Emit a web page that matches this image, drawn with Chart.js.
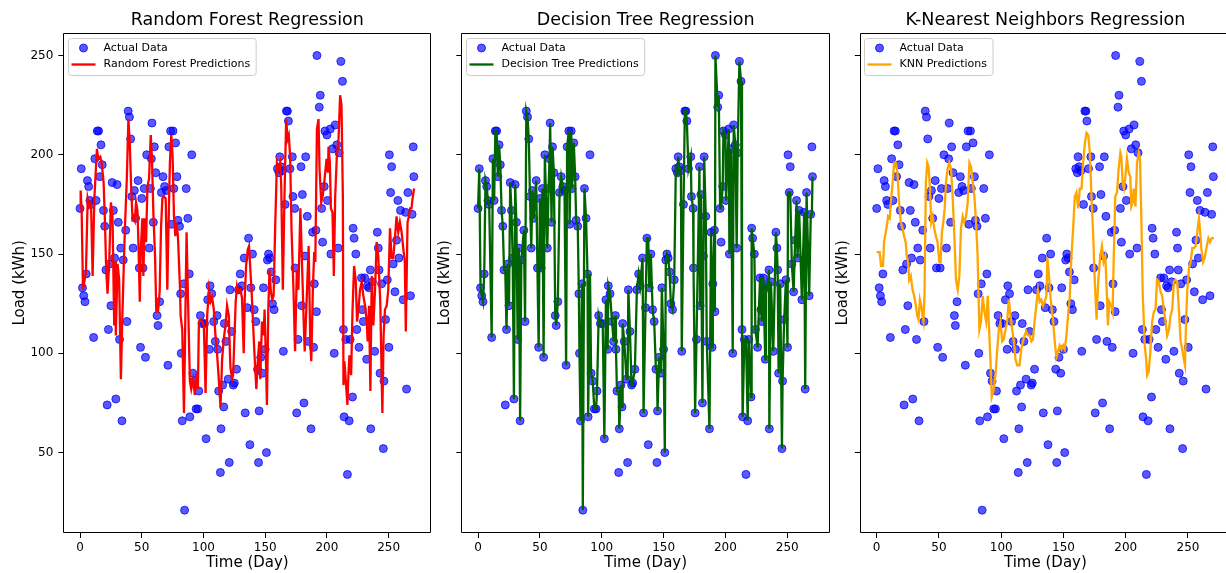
<!DOCTYPE html>
<html>
<head>
<meta charset="utf-8">
<script src="https://cdn.jsdelivr.net/npm/chart.js@4.4.0/dist/chart.umd.min.js"></script>
<style>
  html, body { margin: 0; padding: 0; background: #fff; overflow: hidden; }
  #wrap { position: relative; width: 1226px; height: 573px; overflow: hidden; }
  canvas { position: absolute; top: 0; }
</style>
</head>
<body>
<div id="wrap">
  <canvas id="rfChart" width="440" height="573" style="left:0px"></canvas>
  <canvas id="dtChart" width="415" height="573" style="left:425px"></canvas>
  <canvas id="knnChart" width="420" height="573" style="left:823px"></canvas>
</div>
<script>
const days = [
  0,1,2,3,4,5,6,7,8,9,
  11,12,13,14,15,16,17,18,19,20,
  21,22,23,24,25,26,27,28,29,30,
  31,32,33,34,35,37,38,39,40,41,
  42,43,44,45,47,48,49,50,51,52,
  53,54,56,57,57.8,58.3,59.4,60.2,61.3,62.4,
  63.2,64.5,65.9,67.2,68.5,69.9,71.2,72,73.4,74,
  75.3,76,77.4,78.5,79.3,80.6,81.5,82,82.8,84,
  84.7,86,87.3,88.5,89,90.5,91.4,92.7,94,95.4,
  96.2,97.5,98.9,100.8,102.1,103.4,104.8,105.3,106.7,108.3,
  109.6,111,111.5,112.3,113.7,114.2,115.5,116.4,116.9,118.2,
  120,120.9,121.5,122.8,124.1,125,126.8,128.4,129.8,131.1,
  133,133.8,135.4,136.5,137.6,138.4,139.7,141.1,142.4,143.8,
  144.6,145.1,146.4,147.8,148.6,150,151,151.8,152.7,153.7,
  154.8,155.9,157.2,158.6,159.9,161.2,161.8,162.6,164,164.7,
  166.1,167.2,168,168.8,170.1,172,172.5,173.9,174.2,175.5,
  176.6,179,179.5,180.1,181.4,182.2,182.8,184.1,184.9,187.1,
  188.4,189.2,189.8,191.1,191.5,191.9,193.8,194.6,195.7,196.5,
  197.8,198.4,200,200.5,202.7,203.2,204.5,205.9,206.7,208,
  209.1,209.9,211.3,212.6,213.4,213.9,215.3,216.6,218,218.8,
  220.7,221.2,222,223.4,224.2,226,228,228.7,229.5,230.6,
  232.2,232.8,234,235.2,235.5,236.8,238.7,240.8,241.6,242.2,
  243,244.3,245.7,246.2,247.5,248.9,250.2,250.6,251.6,252.4,
  253.7,255.1,256.4,257.5,258.3,259.6,261.8,263.7,264.5,265.6,
  267.7,269,269.9,270.4
];
const actualLoad = [
  173,193,133,129,126,140,187,184,177,175,
  108,198,177,212,212,189,205,195,172,164,
  142,74,112,145,124,186,172,148,77,185,
  166,107,153,66,147,162,116,222,219,208,
  179,153,182,168,187,143,103,178,143,183,
  98,200,153,183,198,216,166,204,191,119,
  114,126,181,189,184,182,94,204,212,165,
  212,183,206,189,167,164,130,100,66,135,
  21,183,168,140,68,200,90,86,72,72,
  81,119,115,115,57,127,102,134,130,116,
  106,119,102,81,40,62,84,73,115,106,
  87,45,132,111,84,85,92,132,140,134,
  148,70,123,158,54,133,150,122,116,92,
  45,71,98,90,133,102,50,147,150,148,
  141,125,122,137,193,191,199,194,192,101,
  175,222,222,217,193,199,179,173,143,70,
  107,194,124,180,75,149,199,169,106,62,
  161,103,135,162,121,250,224,230,173,156,
  184,212,210,177,213,150,203,100,215,205,
  153,201,247,237,112,68,107,39,66,107,
  78,163,158,150,112,103,138,122,116,138,
  97,134,133,142,62,136,101,161,153,142,
  90,135,52,86,117,137,103,200,181,194,
  145,131,157,177,148,172,127,171,82,181,
  129,170,204,189
];
// decision tree predictions at the same days
const dtPred = [
  173,193,133,129,126,140,187,184,177,175,
  108,198,177,212,212,189,205,195,172,164,
  142,142,112,145,124,186,172,148,77,185,
  166,107,153,66,147,162,116,222,219,208,
  179,153,182,168,187,143,103,178,143,183,
  98,200,153,183,198,216,166,204,191,119,
  114,126,181,189,184,182,94,204,212,165,
  212,183,206,189,167,164,130,100,66,135,
  21,183,168,140,68,140,90,86,72,72,
  81,119,115,115,57,127,102,134,130,116,
  106,119,102,81,81,62,84,73,115,106,
  87,87,132,111,84,85,92,132,140,134,
  148,70,123,158,158,133,150,122,116,92,
  92,71,98,90,133,102,50,147,150,148,
  141,125,122,137,193,191,199,194,192,101,
  175,222,222,217,193,199,179,173,143,70,
  107,194,124,180,75,149,199,169,106,62,
  161,103,135,162,121,250,224,230,173,173,
  184,212,210,177,213,150,203,100,215,205,
  153,201,247,237,112,68,107,107,66,107,
  78,163,158,150,112,103,138,122,116,138,
  97,134,133,142,62,136,101,161,153,142,
  90,135,52,86,117,137,103,181,181,181,
  145,131,157,177,148,172,127,171,82,181,
  129,170,170,189
];
// random forest line, vertices
const rfDays = [
  0,0.5,1.3,2.4,4.8,6.2,7.5,8.9,10.2,11.6,13.7,14.8,16.4,17.5,19.1,20.2,21.2,22.3,23.7,25,
  26.3,27.7,28.5,29,30.4,31.7,33.1,34.1,35.2,36.3,37.9,39.2,40.3,41.4,42.5,43.3,44.4,45.4,46.5,47.3,
  48.4,49.2,50.5,51.3,52.4,53.5,54.6,55.9,57.3,58.3,59.4,60.8,61.8,63.2,64.5,65.6,66.7,68,69.4,70.7,
  71.5,72.8,73.9,75,76.1,77.2,78.2,79.3,80.9,81.5,82.8,84.2,86.3,87.4,89,90.1,91.7,93,94.4,95.5,
  96.3,97.6,99,100.3,101.7,103,104.4,105.7,107,108.4,109.7,111.1,112.4,113.8,115.1,116.4,117.8,119.1,120.5,121.8,
  123.2,124,125,126.1,127.2,128.5,129.9,131.2,132.6,133.4,134.5,135.8,136.9,138,139,140.1,141.2,142.8,144.1,145.2,
  146,147.4,148.7,149.5,150.6,151.4,152.5,153.5,154.6,155.7,156.8,158.1,159.5,160.8,162.1,163,164.3,165.6,167,168.1,
  169.1,170.2,171.3,172.9,174.2,175.6,176.9,178.5,181.2,182,183,184.1,185.2,186.5,187.3,188.7,189.7,190.6,191.9,193.2,
  194,195.4,196.5,197.5,198.6,199.7,200.8,201.3,202.4,203.2,204.5,205.6,206.7,208,209.4,210.7,211.8,212.9,213.4,214.2,
  215.3,216.6,217.4,218.2,219.6,220.7,222,223.3,224.4,225.5,226.8,228.2,229.5,230.9,232.2,233,234.1,235.2,236.3,237.6,
  238.9,240.3,241.6,243.2,244.9,245.9,247,248.4,249.7,251.1,252.4,253.7,255.1,256.4,257.8,259.1,260.5,261.8,263.1,263.9,
  265.3,266.4,267.4,268.5,269.6,270.6
];
const rfPred = [
  173,182,172,132,141,178,174,176,139,178,203,198,199,196,186,166,142,130,147,176,
  169,114,146,109,145,137,87,114,139,162,188,218,206,184,168,169,167,176,172,156,
  126,152,168,139,168,156,184,188,210,198,171,148,121,121,131,163,178,179,178,132,
  159,196,210,199,169,159,166,159,134,119,112,70,161,129,86,82,87,79,90,82,
  116,117,116,114,80,119,132,126,128,122,109,99,87,73,97,107,114,124,119,93,
  87,89,107,126,134,131,132,128,100,127,144,152,154,142,131,116,101,82,97,106,
  87,116,109,122,96,74,122,142,131,127,129,164,196,193,196,184,132,179,218,208,
  210,199,163,132,101,142,132,173,116,101,117,136,154,106,96,134,151,146,213,218,
  193,176,179,184,191,198,191,204,196,173,171,139,179,199,208,230,225,179,84,96,
  86,74,89,99,89,121,144,137,116,122,132,136,129,124,116,106,124,81,139,114,
  131,156,149,126,70,109,122,124,132,163,148,148,158,169,161,166,161,153,146,111,
  166,169,173,173,179,183
];
// knn line, vertices
const knnDays = [
  0,2.4,3.5,5.1,5.9,7.3,8.1,9.1,10.5,11.3,12.6,14,15.3,16.7,18,19.4,20.7,22,23.3,24.2,
  25.3,26.1,27.4,28.8,30.1,31.5,32.5,33.6,34.7,35.8,36.8,37.6,38.4,39.5,40.6,41.7,42.7,43.8,45,46.2,
  47.6,48.9,50.3,51.3,52.4,53.5,54.6,55.6,57,58.3,59.7,61,62.4,63.7,65.1,66.4,67.7,69.1,70.4,71.8,
  73.1,74.5,75.8,77.2,78.5,79.8,81,82.5,83.8,85.2,86.5,87.9,89.2,90,91.4,92.4,93.8,95.4,96.7,98.1,
  99.4,100.8,102.1,103.5,104.8,106.1,107.5,108.8,110.2,111.5,112.9,114.7,116.1,117.4,118.8,120.1,121.5,122.8,124.2,125.5,
  126.8,128.2,129.5,130.9,132.2,133.6,134.9,136.3,137.1,138.4,139.5,140.6,141.6,143,144.3,145.7,147,148.4,149.7,151,
  152.4,153.7,155.1,156.4,157.8,159.1,160.4,161.8,163.1,164.5,165.8,167.2,168.5,169.9,171.2,172.5,173.9,175.2,176.6,177.9,
  179.5,180.9,182.2,183.6,184.9,185.7,186.8,188.4,189.5,190.3,191.6,193,194.3,195.7,196.5,197.5,198.6,199.7,201,202.4,
  203.7,204.5,205.6,206.4,207.8,209.1,210.5,211.5,212.6,213.7,215.3,216.4,217.2,218.5,219.9,221.2,222.6,223.9,225.2,226.6,
  227.9,229.3,230.6,232,233.3,234.7,236,237.3,238.7,240,241.4,242.7,244.1,245.4,246.7,247.6,248.6,249.4,250.8,252.1,
  253.5,254.8,256.2,257.5,258.8,259.6,260.7,262.1,263.4,264.8,266.4,267.7,269.1,270.9
];
const knnPred = [
  151,151,144,144,156,161,164,169,168,176,184,196,196,191,176,166,163,159,156,149,
  146,137,139,132,129,124,119,117,127,124,119,116,129,186,196,194,184,166,169,163,
  159,156,146,146,161,166,173,186,193,196,193,179,159,137,132,139,163,169,166,169,
  176,196,194,186,179,166,150,112,116,129,121,116,129,116,96,78,81,89,101,112,
  116,106,107,112,116,127,119,112,106,97,94,94,102,106,109,111,109,109,106,107,
  116,124,132,126,127,124,126,129,148,139,129,122,117,106,98,101,104,102,104,102,
  109,119,129,149,163,179,181,173,183,183,196,206,211,210,201,179,159,136,117,136,
  149,154,146,149,129,114,126,124,121,146,179,181,193,201,199,186,183,189,198,191,
  189,174,176,183,174,196,201,198,166,129,104,97,89,91,102,116,121,122,137,136,
  131,129,122,116,109,112,119,122,136,137,136,122,106,102,97,94,119,131,143,146,
  153,153,154,161,168,163,153,146,148,153,158,156,158,158
];
const xTicks = [0, 50, 100, 150, 200, 250];
const yTicks = [50, 100, 150, 200, 250];

const FONT = '"DejaVu Sans", sans-serif';
const pointColor = 'rgba(0, 0, 255, 0.65)';
const pointEdge = 'rgba(0, 0, 255, 0.75)';

// frame, legend box and title drawn like matplotlib
const panelDecor = {
    id: 'panelDecor',
    afterDatasetsDraw(chart, args, opts) {
        const ctx = chart.ctx;
        const ca = chart.chartArea;
        const l = Math.round(ca.left) + 0.5, t = Math.round(ca.top) + 0.5;
        const r = Math.round(ca.right) - 0.5, b = Math.round(ca.bottom) - 0.5;
        ctx.save();
        ctx.strokeStyle = '#000';
        ctx.lineWidth = 1;
        ctx.beginPath();
        ctx.moveTo(r, t); ctx.lineTo(l, t); ctx.lineTo(l, b); ctx.lineTo(r, b);
        if (opts.rightEdge) ctx.lineTo(r, t);
        ctx.stroke();

        // legend
        ctx.font = '11px ' + FONT;
        const labels = ['Actual Data', opts.lineLabel];
        let tw = 0;
        labels.forEach(function(s){ tw = Math.max(tw, ctx.measureText(s).width); });
        const lx = Math.round(ca.left + 4.5) + 0.5, ly = Math.round(ca.top + 5.5) + 0.5;
        const w = 35 + tw + 6, h = 37;
        ctx.beginPath();
        ctx.roundRect(lx, ly, w, h, 3);
        ctx.fillStyle = 'rgba(255,255,255,0.8)';
        ctx.fill();
        ctx.strokeStyle = '#cccccc';
        ctx.stroke();

        const y1 = ly + 9.5, y2 = ly + 26;
        ctx.beginPath();
        ctx.arc(lx + 15, y1, 4, 0, Math.PI * 2);
        ctx.fillStyle = pointColor;
        ctx.fill();
        ctx.strokeStyle = pointEdge;
        ctx.stroke();

        ctx.beginPath();
        ctx.moveTo(lx + 3, y2);
        ctx.lineTo(lx + 27, y2);
        ctx.strokeStyle = opts.lineColor;
        ctx.lineWidth = 2.3;
        ctx.stroke();

        ctx.fillStyle = '#000';
        ctx.textBaseline = 'middle';
        ctx.fillText(labels[0], lx + 35, y1);
        ctx.fillText(labels[1], lx + 35, y2);

        // title centred over the plot
        ctx.font = '17.5px ' + FONT;
        ctx.textAlign = 'center';
        ctx.fillText(opts.title, (ca.left + ca.right) / 2, 20);
        ctx.restore();
    }
};

function makeChart(id, title, lineLabel, lineColor, lineDays, lineVals, yWidth, padRight, showYLabels, rightEdge) {
    const scatterPts = days.map(function(d, i){ return {x: d, y: actualLoad[i]}; });
    const linePts = lineDays.map(function(d, i){ return {x: d, y: lineVals[i]}; });
    const ctx = document.getElementById(id).getContext('2d');
    return new Chart(ctx, {
        type: 'scatter',
        data: {
            datasets: [{
                label: lineLabel,
                data: linePts,
                showLine: true,
                borderColor: lineColor,
                borderWidth: 2.3,
                pointRadius: 0,
                tension: 0,
                order: 0
            }, {
                label: 'Actual Data',
                data: scatterPts,
                backgroundColor: pointColor,
                borderColor: pointEdge,
                borderWidth: 1,
                pointRadius: 4,
                order: 1
            }]
        },
        options: {
            responsive: false,
            animation: false,
            devicePixelRatio: 1,
            layout: { padding: { top: 32.7, right: padRight, bottom: 0, left: 0 } },
            plugins: {
                legend: { display: false },
                tooltip: { enabled: false },
                panelDecor: { title: title, lineLabel: lineLabel, lineColor: lineColor, rightEdge: rightEdge }
            },
            scales: {
                x: {
                    type: 'linear',
                    min: -13.55,
                    max: 284.55,
                    afterBuildTicks: function(axis){ axis.ticks = xTicks.map(function(v){ return {value: v}; }); },
                    afterFit: function(s){ s.height = 40; },
                    ticks: { color: '#000', font: { family: FONT, size: 12 }, padding: 3, maxRotation: 0 },
                    grid: { drawOnChartArea: false, drawTicks: true, tickLength: 5, tickColor: '#000' },
                    border: { display: false },
                    title: { display: true, text: 'Time (Day)', color: '#000',
                             font: { family: FONT, size: 15 }, padding: { top: 0, bottom: 1 } }
                },
                y: {
                    type: 'linear',
                    min: 9.5,
                    max: 261.5,
                    afterBuildTicks: function(axis){ axis.ticks = yTicks.map(function(v){ return {value: v}; }); },
                    afterFit: function(s){ s.width = yWidth; },
                    ticks: { display: showYLabels, color: '#000', font: { family: FONT, size: 12 }, padding: 5 },
                    grid: { drawOnChartArea: false, drawTicks: true, tickLength: 5, tickColor: '#000' },
                    border: { display: false },
                    title: { display: true, text: 'Load (kWh)', color: '#000',
                             font: { family: FONT, size: 15 }, padding: { top: 11, bottom: 0 } }
                }
            }
        },
        plugins: [panelDecor]
    });
}

document.addEventListener("DOMContentLoaded", function(){
    makeChart('rfChart', 'Random Forest Regression', 'Random Forest Predictions', '#ff0000',
        rfDays, rfPred, 63.3, 8.7, true, true);
    makeChart('dtChart', 'Decision Tree Regression', 'Decision Tree Predictions', '#006400',
        days, dtPred, 36.3, 10, false, true);
    // right spine of the last panel falls outside the picture
    makeChart('knnChart', 'K-Nearest Neighbors Regression', 'KNN Predictions', '#ffa500',
        knnDays, knnPred, 36.8, 12, false, false);
});
</script>
</body>
</html>
